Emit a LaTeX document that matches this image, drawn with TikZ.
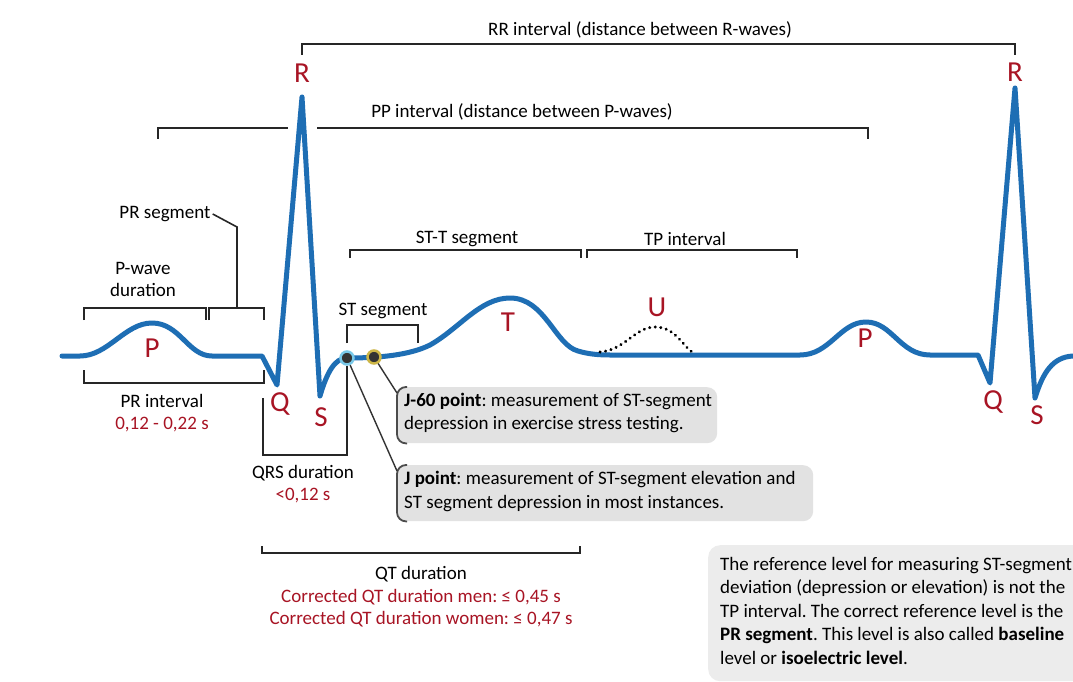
\documentclass[tikz,border=0pt]{standalone}
\usepackage{fontspec}
\setmainfont{Carlito}
\frenchspacing
\definecolor{ecg}{RGB}{30,110,180}
\definecolor{lab}{RGB}{168,20,36}
\definecolor{boxg}{RGB}{226,226,226}
\definecolor{refg}{RGB}{236,236,236}
\definecolor{jring}{RGB}{120,200,232}
\definecolor{jsixty}{RGB}{205,182,70}
\begin{document}
\begin{tikzpicture}[x=1pt,y=-1pt,
  ecgline/.style={line width=5pt, ecg, line join=round, line cap=round},
  brk/.style={line width=1.6pt, black!85},
  big/.style={text=lab, font=\fontsize{29}{29}\selectfont, inner sep=0pt},
  lbl/.style={font=\fontsize{19}{22}\selectfont, inner sep=0pt, align=center},
  gbox/.style={fill=boxg, rounded corners=10pt, draw=none},
  jdot/.style={circle, fill=black!80, draw=#1, line width=2.5pt, minimum size=13pt, inner sep=0pt},
  conn/.style={line width=1.4pt, black!80}]
\useasboundingbox (0,0) rectangle (1073,682);
\clip (0,0) rectangle (1073,682);
\fill[white] (0,0) rectangle (1073,682);

% ECG trace
\draw[ecgline] (62,356) -- (80,356) .. controls (108,356) and (125,323) .. (152,323)
  .. controls (180,323) and (188,356) .. (212,356) -- (262,356) -- (277,385) -- (302,97)
  -- (320,396) .. controls (327,372) and (335,358) .. (347,358)
  .. controls (380,358) and (410,355) .. (430,345)
  .. controls (460,328) and (480,298) .. (510,298)
  .. controls (545,298) and (555,345) .. (578,351)
  .. controls (588,354) and (598,355) .. (610,355) -- (800,355)
  .. controls (830,355) and (840,322) .. (866,322)
  .. controls (892,322) and (900,355) .. (930,355) -- (978,355) -- (990,383) -- (1015,88)
  -- (1035,398) .. controls (1043,372) and (1053,357) .. (1073,356);
% U wave
\draw[line width=3.2pt, dash pattern=on 0.1pt off 5.5pt, line cap=round]
  (600,352) .. controls (625,350) and (635,327) .. (655,327) .. controls (675,327) and (682,345) .. (692,352);

% wave letters
\node[big] (Pa) at (152,348) {P};
\node[big] (Ra) at (302,73) {R};
\node[big] (Qa) at (280,404) {Q};
\node[big] (Sa) at (321,417) {S};
\node[big] (Ta) at (508,322) {T};
\node[big] (Ua) at (657,307) {U};
\node[big] (Pb) at (865,338) {P};
\node[big] (Rb) at (1015,72) {R};
\node[big] (Qb) at (993,402) {Q};
\node[big] (Sb) at (1037,415) {S};

% labels
\node[lbl] (rr) at (640,30) {RR interval (distance between R-waves)};
\node[lbl] (pp) at (522,112) {PP interval (distance between P-waves)};
\node[lbl] (prseg) at (165,214) {PR segment};
\node[lbl] (pwd) at (143,279) {P-wave\\duration};
\node[lbl] (stt) at (467,239) {ST-T segment};
\node[lbl] (tp) at (685,239) {TP interval};
\node[lbl] (stseg) at (383,311) {ST segment};
\node[lbl] (pri) at (162,413) {PR interval\\\textcolor{lab}{0,12 - 0,22 s}};
\node[lbl] (qrs) at (303,484) {QRS duration\\\textcolor{lab}{<0,12 s}};
\node[lbl, font=\fontsize{19}{22.5}\selectfont] (qt) at (421,597) {QT duration\\\textcolor{lab}{Corrected QT duration men: ≤ 0,45 s}\\\textcolor{lab}{Corrected QT duration women: ≤ 0,47 s}};

% brackets
\draw[brk] (302,55) -- (302,44) -- (1015,44) -- (1015,55);
\draw[brk] (158,139) -- (158,128) -- (288,128);
\draw[brk] (317,128) -- (868,128) -- (868,139);
\draw[brk] (84,320) -- (84,308) -- (206,308) -- (206,320);
\draw[brk] (209,320) -- (209,308) -- (264,308) -- (264,320);
\draw[brk] ([xshift=2pt]prseg.east) -- (237,227) -- (237,308);
\draw[brk] (350,258) -- (350,250) -- (581,250) -- (581,258);
\draw[brk] (587,258) -- (587,250) -- (797,250) -- (797,258);
\draw[brk] (347,343) -- (347,325) -- (418,325) -- (418,343);
\draw[brk] (84,370) -- (84,383) -- (264,383) -- (264,370);
\draw[brk] (262,546) -- (262,553) -- (580,553) -- (580,546);

% J points
\node[jdot=jring] (J) at (347,358) {};
\node[jdot=jsixty] (J60) at (374,357) {};
\draw[brk] (263,398) -- (263,455) -- (347,455) -- (J.south);

% callout boxes
\node[gbox, anchor=north west, minimum width=320pt, minimum height=56pt] (b60) at (397,387) {};
\node[gbox, anchor=north west, minimum width=416pt, minimum height=56pt] (bJ) at (397,465) {};
\draw[line width=1.8pt, black!70, rounded corners=9pt] ([xshift=10pt]b60.north west) -- (b60.north west) -- (b60.south west) -- ([xshift=10pt]b60.south west);
\draw[line width=1.8pt, black!70, rounded corners=9pt] ([xshift=10pt]bJ.north west) -- (bJ.north west) -- (bJ.south west) -- ([xshift=10pt]bJ.south west);
\node[lbl, anchor=west, align=left, font=\fontsize{19}{23}\selectfont] (t60) at (404,413) {\textbf{J-60 point}: measurement of ST-segment\\depression in exercise stress testing.};
\node[lbl, anchor=west, align=left, font=\fontsize{19}{24}\selectfont] (tJ) at (404,491) {\textbf{J point}: measurement of ST-segment elevation and\\ST segment depression in most instances.};
\draw[conn] (J60) -- ([yshift=-6pt]b60.north west);
\draw[conn] (J) -- ([yshift=-6pt]bJ.north west);

% reference box
\node[fill=refg, rounded corners=12pt, anchor=north west, minimum width=390pt, minimum height=136pt] (ref) at (708,545) {};
\node[lbl, anchor=north west, align=left, font=\fontsize{19}{23.5}\selectfont] (reftxt) at (720,557) {The reference level for measuring ST-segment\\deviation (depression or elevation) is not the\\TP interval. The correct reference level is the\\\textbf{PR segment}. This level is also called \textbf{baseline}\\level or \textbf{isoelectric level}.};
\end{tikzpicture}
\end{document}
